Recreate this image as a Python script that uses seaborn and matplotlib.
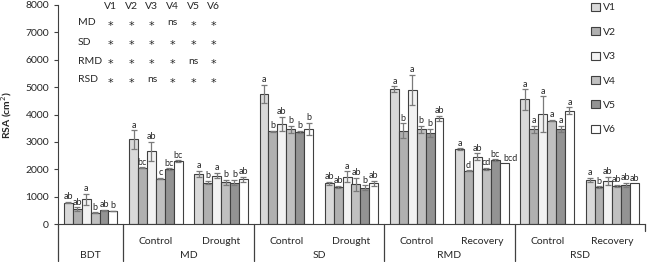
import numpy as np
import pandas as pd
import matplotlib
matplotlib.use("Agg")
import matplotlib.pyplot as plt
import seaborn as sb

# slots on the x axis (treatment / condition)
slots = ["BDT", "MD-Control", "MD-Drought", "SD-Control", "SD-Drought",
         "RMD-Control", "RMD-Recovery", "RSD-Control", "RSD-Recovery"]
sub_labels = ["", "Control", "Drought", "Control", "Drought",
              "Control", "Recovery", "Control", "Recovery"]
groups = ["BDT", "MD", "SD", "RMD", "RSD"]
varieties = ["V1", "V2", "V3", "V4", "V5", "V6"]

# RSA means (cm2) per variety, across slots
v1 = [780, 3090, 1840, 4750, 1490, 4930, 2740, 4550, 1610]
v2 = [540, 2060, 1510, 3390, 1360, 3410, 1950, 3460, 1340]
v3 = [910, 2650, 1770, 3650, 1730, 4890, 2460, 4010, 1580]
v4 = [410, 1660, 1520, 3460, 1450, 3460, 2010, 3780, 1390]
v5 = [500, 2000, 1510, 3360, 1320, 3320, 2340, 3470, 1430]
v6 = [475, 2290, 1640, 3470, 1490, 3860, 2220, 4140, 1490]

# error bars
e1 = [30, 340, 110, 330, 60, 100, 20, 370, 80]
e2 = [70, 20, 60, 20, 30, 270, 20, 130, 30]
e3 = [200, 350, 100, 270, 200, 560, 120, 650, 150]
e4 = [20, 30, 90, 120, 240, 130, 40, 30, 40]
e5 = [20, 30, 100, 40, 90, 150, 30, 110, 70]
e6 = [10, 30, 90, 230, 90, 100, 0, 130, 0]

# significance letters
l1 = ["ab", "a", "a", "a", "ab", "a", "a", "a", "a"]
l2 = ["ab", "bc", "b", "b", "ab", "b", "d", "a", "b"]
l3 = ["a", "ab", "a", "ab", "a", "a", "ab", "a", "ab"]
l4 = ["b", "c", "b", "b", "ab", "b", "cd", "a", "ab"]
l5 = ["ab", "bc", "b", "b", "b", "b", "bc", "a", "ab"]
l6 = ["b", "bc", "ab", "b", "ab", "ab", "bcd", "a", "ab"]

# significance table (top left)
sig_rows = ["MD", "SD", "RMD", "RSD"]
sig_md = ["*", "*", "*", "ns", "*", "*"]
sig_sd = ["*", "*", "*", "*", "*", "*"]
sig_rmd = ["*", "*", "*", "*", "ns", "*"]
sig_rsd = ["*", "*", "ns", "*", "*", "*"]

means = [v1, v2, v3, v4, v5, v6]
errs = [e1, e2, e3, e4, e5, e6]
letters = [l1, l2, l3, l4, l5, l6]
sigs = [sig_md, sig_sd, sig_rmd, sig_rsd]

# small sideways nudge (points) for crowded letters: (variety idx, slot idx)
nudge = {(5, 6): 4.5}

rows = []
for v, m in zip(varieties, means):
	for s, val in zip(slots, m):
		rows.append((s, v, val))
df = pd.DataFrame(rows, columns=["slot", "variety", "RSA"])

colors = ["#d9d9d9", "#b0b0b0", "#f2f2f2", "#c0c0c0", "#939393", "#ffffff"]

sb.set_style("white")
plt.rcParams["font.family"] = ["Lato", "DejaVu Sans"]

fig = plt.figure(figsize=(6.49, 2.62), dpi=100)
ax = fig.add_axes([58/649, 1-224/262, 587/649, 219/262])

sb.barplot(data=df, x="slot", y="RSA", hue="variety", order=slots, hue_order=varieties,
	palette=colors, edgecolor="#404040", linewidth=0.8, width=0.82, errorbar=None,
	saturation=1, ax=ax)

bar_sets = list(ax.containers)
for i, cont in enumerate(bar_sets):
	for j, bar in enumerate(cont):
		xc = bar.get_x() + bar.get_width()/2
		h = bar.get_height()
		e = errs[i][j]
		if e > 0:
			ax.errorbar(xc, h, yerr=e, color="#7a7a7a", capsize=2.5, elinewidth=0.9, capthick=0.9)
		ax.annotate(letters[i][j], (xc, h + e), xytext=(nudge.get((i, j), 0), 0.4),
			textcoords="offset points", ha="center", va="bottom", fontsize=6.5)

ax.set_xlim(-0.5, 8.5)
ax.set_ylim(0, 8000)
ax.set_yticks(np.arange(0, 8001, 1000))
ax.tick_params(axis="y", labelsize=7.5, length=3, direction="out", left=True, color="#404040")
ax.set_xticks([])
ax.set_xlabel("")
ax.set_ylabel("RSA (cm$^2$)", fontsize=7.5, fontweight="bold", labelpad=8)
for sp in ["top", "right"]:
	ax.spines[sp].set_visible(False)
ax.spines["left"].set_color("#404040")
ax.spines["bottom"].set_color("#404040")

trans = ax.get_xaxis_transform()
for xs in [-0.5, 0.5, 2.5, 4.5, 6.5]:
	ax.plot([xs, xs], [0, -0.17], transform=trans, color="#404040", lw=0.9, clip_on=False)
ax.plot([8.5, 8.5], [0, -0.03], transform=trans, color="#404040", lw=0.9, clip_on=False)

for k, lab in enumerate(sub_labels):
	if lab:
		ax.text(k, -0.082, lab, transform=trans, ha="center", va="center", fontsize=7.5)
group_x = [0, 1.5, 3.5, 5.5, 7.5]
for gx, g in zip(group_x, groups):
	ax.text(gx, -0.142, g, transform=trans, ha="center", va="center", fontsize=7.5)

col_x = [0.089, 0.125, 0.160, 0.195, 0.230, 0.265]
for cx, v in zip(col_x, varieties):
	ax.text(cx, 0.995, v, transform=ax.transAxes, ha="center", va="center", fontsize=7.5)
row_y = [0.918, 0.831, 0.744, 0.658]
for ry, r, srow in zip(row_y, sig_rows, sigs):
	ax.text(0.034, ry, r, transform=ax.transAxes, ha="left", va="center", fontsize=7.5)
	for cx, s in zip(col_x, srow):
		if s == "*":
			ax.text(cx, ry - 0.012, s, transform=ax.transAxes, ha="center", va="center",
				fontsize=8, family="DejaVu Sans")
		else:
			ax.text(cx, ry, s, transform=ax.transAxes, ha="center", va="center", fontsize=7.5)

handles, labs = ax.get_legend_handles_labels()
ax.legend_.remove()
fig.legend(handles, labs, loc="upper left", bbox_to_anchor=(582/649, 1.025), frameon=False,
	fontsize=7.5, handlelength=0.8, handleheight=0.8, handletextpad=0.3, labelspacing=1.42)

plt.savefig("out.png", dpi=100)
